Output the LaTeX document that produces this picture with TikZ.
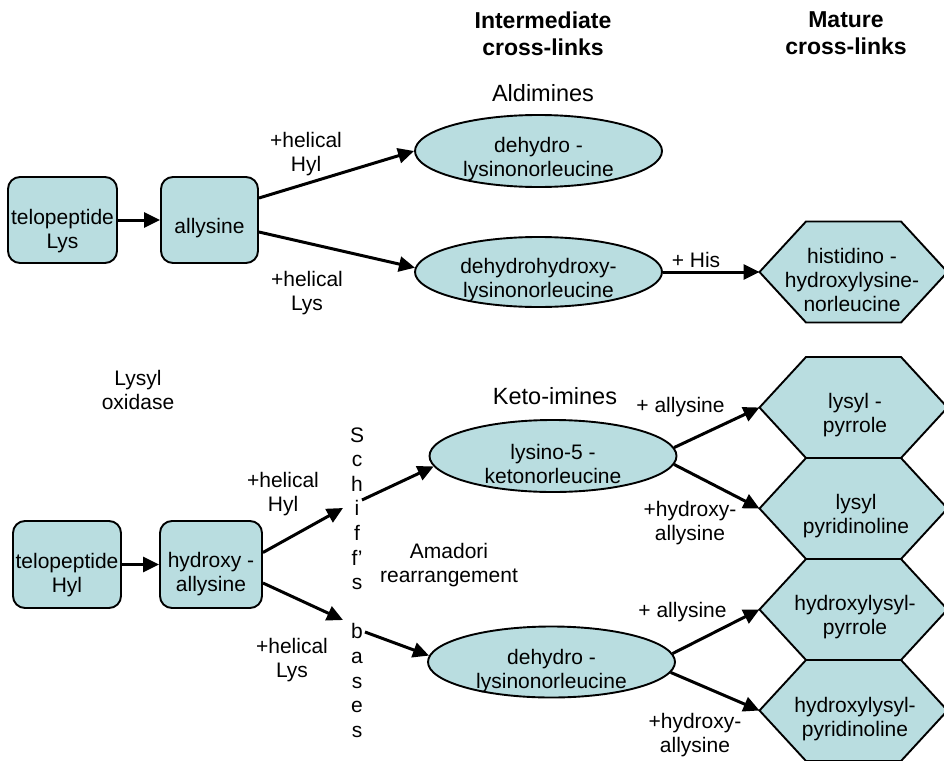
\documentclass[tikz,border=0pt]{standalone}
\usepackage{fontspec}
\setmainfont{Liberation Sans}
\usetikzlibrary{arrows.meta,shapes.geometric}
\definecolor{fillc}{RGB}{185,221,224}
\begin{document}
\begin{tikzpicture}[x=1pt,y=-1pt,
  txt/.style={font=\fontsize{21}{24}\selectfont, align=center, inner sep=0pt},
  big/.style={font=\fontsize{23.5}{27}\selectfont, align=center, inner sep=0pt},
  ttl/.style={font=\fontsize{23}{27}\selectfont\bfseries, align=center, inner sep=0pt},
  box/.style={draw, line width=1.9pt, fill=fillc, rounded corners=12pt, inner sep=0pt},
  ell/.style={draw, ellipse, line width=1.9pt, fill=fillc, inner sep=0pt, minimum width=247pt},
  hexs/.style={draw, line width=1.9pt, fill=fillc, line join=miter},
  arr/.style={line width=3pt, -{Triangle[length=16pt,width=15pt]}}]
\useasboundingbox (0,0) rectangle (944,760);
\clip (0,0) rectangle (944,760);
\fill[white] (0,0) rectangle (944,760);

% titles
\node[ttl] (t1) at (543,33.5) {Intermediate\\cross-links};
\node[ttl] (t2) at (846,33.5) {Mature\\cross-links};
\node[big] (ald) at (543,93) {Aldimines};
\node[big] (keto) at (555,396) {Keto-imines};
\node[txt] (lox) at (138,390) {Lysyl\\oxidase};
\node[txt] (amad) at (449,565.5) {Amadori\\rearrangement};

% boxes
\node[box, minimum width=109pt, minimum height=86pt] (tlys) at (62.5,220) {};
\node[txt] (tlyst) at (62.5,231) {telopeptide\\Lys};
\node[box, minimum width=97pt, minimum height=86pt] (all) at (209.5,220) {};
\node[txt] (allt) at (209.5,228) {allysine};
\node[box, minimum width=108pt, minimum height=87pt] (thyl) at (67,564.5) {};
\node[txt] (thylt) at (67,575) {telopeptide\\Hyl};
\node[box, minimum width=102pt, minimum height=87pt] (hall) at (211,564.5) {};
\node[txt] (hallt) at (211,574.5) {hydroxy -\\allysine};

% ellipses
\node[ell, minimum height=72pt] (e1) at (538.5,151) {};
\node[txt] (e1t) at (538.5,159.5) {dehydro -\\lysinonorleucine};
\node[ell, minimum height=70pt] (e2) at (538.5,272) {};
\node[txt] (e2t) at (538.5,280.5) {dehydrohydroxy-\\lysinonorleucine};
\node[ell, minimum height=72pt] (k1) at (553,456) {};
\node[txt] (k1t) at (553,464) {lysino-5 -\\ketonorleucine};
\node[ell, minimum height=71pt] (d2) at (551.5,662) {};
\node[txt] (d2t) at (551.5,671.5) {dehydro -\\lysinonorleucine};

% hexagons
\foreach \n/\cy in {h1/272, h2/407.5, h3/508.5, h4/609.5, h5/710.5} {
  \draw[hexs] (759.5,\cy) -- (806,{\cy-50.5}) -- (901,{\cy-50.5}) -- (947.5,\cy)
     -- (901,{\cy+50.5}) -- (806,{\cy+50.5}) -- cycle;
  \coordinate (\n) at (759.5,\cy);
}
\node[txt] (h1t) at (852,280) {histidino -\\hydroxylysine-\\norleucine};
\node[txt] (h2t) at (855,415.5) {lysyl -\\pyrrole};
\node[txt] (h3t) at (856,516.5) {lysyl\\pyridinoline};
\node[txt] (h4t) at (855,617.5) {hydroxylysyl-\\pyrrole};
\node[txt] (h5t) at (855,719) {hydroxylysyl-\\pyridinoline};

% Schiff's bases (vertical)
\foreach \ch [count=\i] in {S,c,h,i,f,f’,s}
  \node[txt, anchor=base] (sch\i) at (357,{442+(\i-1)*24.6}) {\ch};
\foreach \ch [count=\i] in {b,a,s,e,s}
  \node[txt, anchor=base] (bas\i) at (357,{638.8+(\i-1)*24.6}) {\ch};
\coordinate (sAin) at (343,508);
\coordinate (sAout) at (362,500);
\coordinate (sBin) at (343,620);
\coordinate (sBout) at (365,632);

% labels
\node[txt] (l1) at (306,154) {+helical\\Hyl};
\node[txt] (l2) at (307,293) {+helical\\Lys};
\node[txt] (l3) at (283,494.5) {+helical\\Hyl};
\node[txt] (l4) at (292,660.5) {+helical\\Lys};
\node[txt] (l5) at (696,260) {+ His};
\node[txt] (l6) at (680.5,407) {+ allysine};
\node[txt] (l7) at (690,523.5) {+hydroxy-\\allysine};
\node[txt] (l8) at (682.5,612) {+ allysine};
\node[txt] (l9) at (695,735) {+hydroxy-\\allysine};

% connectors
\draw[arr] (tlys.east) -- (all.west);
\draw[arr] ([yshift=22pt]all.east) -- (e1.west);
\draw[arr] ([yshift=-12pt]all.east) -- (e2.178);
\draw[arr] (e2.east) -- (h1);
\draw[arr] (thyl.east) -- (hall.west);
\draw[arr] ([yshift=12pt]hall.east) -- (sAin);
\draw[arr] ([yshift=-18.5pt]hall.east) -- (sBin);
\draw[arr] (sAout) -- (k1.185);
\draw[arr] (sBout) -- (d2.177);
\draw[arr] (k1.4) -- (h2);
\draw[arr] (k1.-4) -- (h3);
\draw[arr] (d2.4) -- (h4);
\draw[arr] (d2.-5) -- (h5);
\end{tikzpicture}
\end{document}
